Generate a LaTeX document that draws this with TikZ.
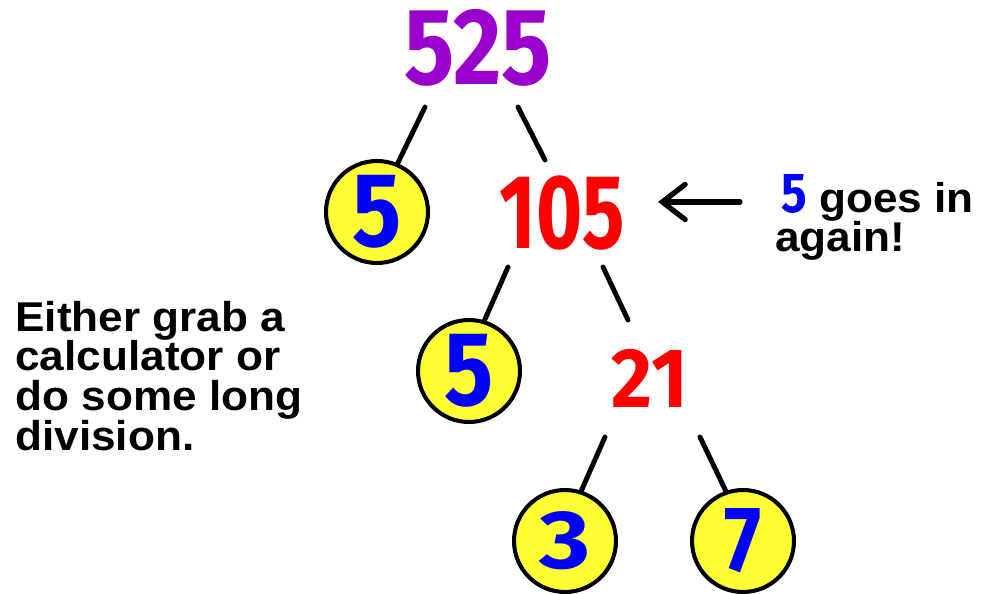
\documentclass[tikz,border=0pt]{standalone}
\usepackage{fontspec}
\setmainfont{Liberation Sans}
\newfontfamily\digitfont{Fira Sans}
\usetikzlibrary{arrows.meta}
\definecolor{numpurple}{RGB}{153,0,204}
\definecolor{numred}{RGB}{255,0,0}
\definecolor{numblue}{RGB}{0,0,255}
\definecolor{ballyellow}{RGB}{255,255,51}
\newcommand{\handdigits}[3]{\scalebox{#1}[1]{\fontsize{#2}{#2}\selectfont\digitfont\bfseries #3}}
\newcommand{\widetext}[1]{\scalebox{1.06}[1]{#1}}
\begin{document}
\begin{tikzpicture}[x=0.02cm,y=-0.02cm,
  ball/.style={circle, draw=black, line width=2.3pt, fill=ballyellow, minimum size=2.04cm, inner sep=0pt, text=numblue},
  numtext/.style={inner sep=0pt},
  limb/.style={line width=2.8pt, line cap=round, draw=black},
  pointer/.style={line width=3pt, line cap=round, -{Straight Barb[length=13pt,width=20pt,line cap=round]}},
  note/.style={inner sep=0pt, align=left, font=\bfseries\fontsize{23.7}{22.5}\selectfont}
]
\useasboundingbox (0,0) rectangle (983,594);

\node[numtext, text=numpurple] (n525) at (478,48) {\handdigits{0.86}{62}{525}};
\node[ball] (c5a) at (377,212) {\handdigits{0.87}{60}{5}};
\node[numtext, text=numred] (n105) at (562,213) {\handdigits{0.75}{60}{105}};
\node[ball] (c5b) at (469,371) {\handdigits{0.87}{60}{5}};
\node[numtext, text=numred] (n21) at (650,378) {\handdigits{0.94}{48}{21}};
\node[ball] (c3) at (565,541) {\handdigits{1.19}{47}{3}};
\node[ball] (c7) at (743,541) {\handdigits{0.85}{53}{7}};

\draw[limb] ([shift={(-53,59)}]n525.center) -- (c5a.67);
\draw[limb] ([shift={(40,59)}]n525.center) -- ([shift={(-17,-53)}]n105.center);
\draw[limb] ([shift={(-54,54)}]n105.center) -- (c5b.73);
\draw[limb] ([shift={(41,54)}]n105.center) -- ([shift={(-22,-58)}]n21.center);
\draw[limb] ([shift={(-45,59)}]n21.center) -- (c3.72);
\draw[limb] ([shift={(50,59)}]n21.center) -- (c7.109);

\node[note, anchor=base west] (again) at (775,252) {\hspace*{3.5pt}{\color{numblue}\handdigits{0.85}{32}{5}}\widetext{ goes in}\\\widetext{again!}};
\coordinate (arrtail) at (740,202);
\draw[pointer] (arrtail) -- ([shift={(96,-11)}]n105.center);

\node[note, anchor=base west] (either) at (15,450) {\widetext{Either grab a}\\\widetext{calculator or}\\\widetext{do some long}\\\widetext{division.}};
\end{tikzpicture}
\end{document}
